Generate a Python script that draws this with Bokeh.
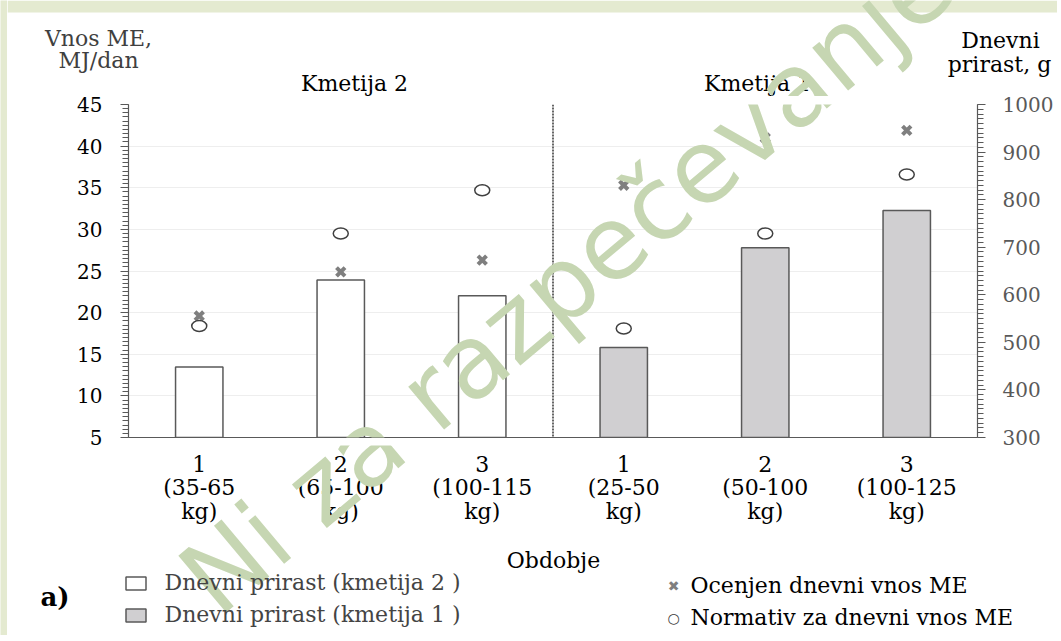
from bokeh.plotting import figure
from bokeh.layouts import column, row
from bokeh.models import Range1d, LinearAxis, Span, Label, Legend, LegendItem, FixedTicker, BoxAnnotation
from bokeh.embed import file_html
from bokeh.resources import INLINE

# ---------------- data ----------------
farm_titles = ["Kmetija 2", "Kmetija 1"]
period_labels = ["1\n(35-65\nkg)", "2\n(65-100\nkg)", "3\n(100-115\nkg)",
                 "1\n(25-50\nkg)", "2\n(50-100\nkg)", "3\n(100-125\nkg)"]
positions = [0, 1, 2, 3, 4, 5]
gain_farm2 = [448, 631, 598]          # Dnevni prirast (kmetija 2), g
gain_farm1 = [489, 699, 777]          # Dnevni prirast (kmetija 1), g
estimated_me = [19.6, 24.9, 26.3, 35.3, 41.0, 41.9]   # Ocenjen dnevni vnos ME
norm_me = [18.4, 29.5, 34.7, 18.1, 29.5, 36.6]        # Normativ za dnevni vnos ME
left_ticks = [5, 10, 15, 20, 25, 30, 35, 40, 45]
right_ticks = [300, 400, 500, 600, 700, 800, 900, 1000]
legend_labels = ["Dnevni prirast (kmetija 2 )", "Dnevni prirast (kmetija 1 )",
                 "Ocenjen dnevni vnos ME", "Normativ za dnevni vnos ME"]
axis_titles = ["Vnos ME,\nMJ/dan", "Dnevni\nprirast, g", "Obdobje"]
watermark = "Ni za razpečevanje"

SERIF = "DejaVu Serif"
DARK = "#595959"
GREEN = "#e4ead0"
WM = "#c6d6b2"
FS = "22px"
WM_X, WM_Y, WM_SIZE = 566, 280, "102px"

STRIP = 7              # left green strip width
CW = 1050              # width of the column of figures
TOP_H, MAIN_TOP, MAIN_BOT, BOT_H = 96, 8, 8, 190
FRAME_L, FRAME_R, FRAME_T, FRAME_B = 128, 977, 104, 437
UNIT_X = (FRAME_R - FRAME_L) / 6.0
UNIT_Y = (FRAME_B - FRAME_T) / 40.0

def XP(px):            # page x -> category axis units
    return -0.5 + (px - FRAME_L) / UNIT_X

def YM(py):            # page y -> left axis units (main figure)
    return 5 + (FRAME_B - py) / UNIT_Y

def no_align(f):
    try:
        f.frame_align = False
    except Exception:
        pass

def blank_fig(h, y0, y1):
    f = figure(frame_width=CW, frame_height=h, min_border=0,
               x_range=Range1d(XP(STRIP), XP(STRIP + CW)), y_range=Range1d(y0, y1),
               x_axis_type=None, y_axis_type=None,
               output_backend="svg", toolbar_location=None, tools="")
    f.outline_line_color = None
    f.grid.visible = False
    f.background_fill_color = "white"
    f.border_fill_color = "white"
    no_align(f)
    return f

def txt(f, x, y, s, size=FS, color="black", align="center", style="normal", font=SERIF):
    f.add_layout(Label(x=x, y=y, text=s, text_align=align, text_baseline="middle",
                       text_font=font, text_font_size=size, text_color=color,
                       text_font_style=style))

def wm(f, y):
    f.add_layout(Label(x=XP(WM_X), y=y, text=watermark, angle=40, angle_units="deg",
                       text_align="center", text_baseline="middle",
                       text_font="DejaVu Sans", text_font_size=WM_SIZE,
                       text_color=WM))

# ---------------- top strip (titles) ----------------
top = blank_fig(TOP_H, TOP_H, 0)       # y in page pixels (flipped)
top.add_layout(BoxAnnotation(top=0, bottom=12, fill_color=GREEN, fill_alpha=1, line_color=None))
l1, l2 = axis_titles[0].split("\n")
txt(top, XP(98), 38, l1, color="#404040")
txt(top, XP(98), 60, l2, color="#404040")
r1, r2 = axis_titles[1].split("\n")
txt(top, XP(1000), 40, r1)
txt(top, XP(999), 64, r2)
txt(top, XP(354), 83, farm_titles[0])
txt(top, XP(757), 83, farm_titles[1])
wm(top, WM_Y)

# ---------------- main chart ----------------
p = figure(frame_width=FRAME_R - FRAME_L, frame_height=FRAME_B - FRAME_T,
           min_border_left=FRAME_L - STRIP, min_border_right=STRIP + CW - FRAME_R,
           min_border_top=MAIN_TOP, min_border_bottom=MAIN_BOT,
           x_range=Range1d(-0.5, 5.5), y_range=Range1d(5, 45),
           output_backend="svg", toolbar_location=None, tools="")
p.outline_line_color = None
p.background_fill_color = "white"
p.border_fill_color = "white"
p.extra_y_ranges = {"right": Range1d(300, 1000)}
no_align(p)

p.xgrid.visible = False
p.ygrid.ticker = FixedTicker(ticks=left_ticks)
p.ygrid.grid_line_color = "#eeeeee"
p.ygrid.grid_line_width = 1

ya = p.yaxis[0]
ya.ticker = FixedTicker(ticks=left_ticks, minor_ticks=[5 + 0.5 * i for i in range(81)])
ra = LinearAxis(y_range_name="right",
                ticker=FixedTicker(ticks=right_ticks, minor_ticks=[300 + 10 * i for i in range(71)]))
p.add_layout(ra, "right")
for ax, col, sto in [(ya, "black", 18), (ra, DARK, 17)]:
    ax.axis_line_color = DARK
    ax.axis_line_width = 1.2
    ax.major_tick_line_color = DARK
    ax.minor_tick_line_color = DARK
    ax.major_tick_out = 8
    ax.major_tick_in = 0
    ax.minor_tick_out = 6
    ax.minor_tick_in = 0
    ax.major_label_standoff = sto
    ax.major_label_text_font = SERIF
    ax.major_label_text_font_size = "20px"
    ax.major_label_text_color = col

xa = p.xaxis[0]
xa.ticker = FixedTicker(ticks=[])
xa.axis_line_color = DARK
xa.axis_line_width = 1.2
xa.major_tick_out = 0
xa.major_tick_in = 0
xa.minor_tick_out = 0
xa.minor_tick_in = 0
xa.major_label_standoff = 0
xa.major_label_text_font_size = "0px"

p.vbar(x=positions[:3], top=gain_farm2, bottom=300, width=0.335,
       y_range_name="right", fill_color="white", line_color=DARK, line_width=1.5)
p.vbar(x=positions[3:], top=gain_farm1, bottom=300, width=0.335,
       y_range_name="right", fill_color="#d0cfd1", line_color=DARK, line_width=1.5)

p.add_layout(Span(location=2.5, dimension="height", line_color="black",
                  line_dash="2 1", line_width=1.2))

p.scatter(x=positions, y=estimated_me, marker="x", size=12, line_width=4,
          line_color="#7f7f7f")
p.ellipse(x=positions, y=norm_me, width=15, height=11, width_units="screen",
          height_units="screen", fill_color="white", line_color="#404040", line_width=1.5)
p.add_layout(Label(x=XP(WM_X), y=YM(WM_Y), text=watermark, angle=40, angle_units="deg",
                   text_align="center", text_baseline="middle",
                   text_font="DejaVu Sans", text_font_size=WM_SIZE, text_color=WM))

# ---------------- bottom strip (x labels, legend) ----------------
BOT_Y0 = FRAME_B + MAIN_BOT
bot = blank_fig(BOT_H, BOT_Y0 + BOT_H, BOT_Y0)
for xi, lab in zip(positions, period_labels):
    for k, line in enumerate(lab.split("\n")):
        txt(bot, xi, 463 + 24 * k, line)
txt(bot, XP(553), 560, axis_titles[2])
txt(bot, XP(40), 596, "a)", size="26px", align="left", style="bold")

# swatch renderers for the legend (hidden in this strip; the bars are drawn in the chart)
dw = bot.vbar(x=positions[:3], top=gain_farm2, width=0.3, fill_color="white",
              line_color=DARK, line_width=1.5, visible=False)
dg = bot.vbar(x=positions[3:], top=gain_farm1, width=0.3, fill_color="#d0cfd1",
              line_color=DARK, line_width=1.5, visible=False)
leg = Legend(items=[LegendItem(label=legend_labels[0], renderers=[dw]),
                    LegendItem(label=legend_labels[1], renderers=[dg])],
             location=(122.5 - STRIP, BOT_Y0 + BOT_H - 627), orientation="vertical",
             glyph_width=25, glyph_height=16, label_height=24, spacing=7,
             padding=0, margin=0, label_standoff=17,
             label_text_font=SERIF, label_text_font_size=FS,
             border_line_color=None, background_fill_alpha=0)
bot.add_layout(leg)

txt(bot, XP(673), 585, "\u2716", size="14px", color="#7f7f7f", font="DejaVu Sans")
txt(bot, XP(673), 617, "\u25cb", size="14px", color="#404040", font="DejaVu Sans")
txt(bot, XP(690), 585, legend_labels[2], align="left")
txt(bot, XP(690), 617, legend_labels[3], align="left")
wm(bot, WM_Y)

# ---------------- left green strip ----------------
strip = figure(frame_width=STRIP, frame_height=TOP_H + MAIN_TOP + (FRAME_B - FRAME_T) + MAIN_BOT + BOT_H,
               min_border=0, x_axis_type=None, y_axis_type=None,
               output_backend="svg", toolbar_location=None, tools="")
strip.outline_line_color = None
strip.grid.visible = False
strip.background_fill_color = GREEN
strip.border_fill_color = GREEN
no_align(strip)

layout = row(strip, column(top, p, bot, spacing=0), spacing=0)

open("out.html", "w").write(file_html(layout, INLINE))
